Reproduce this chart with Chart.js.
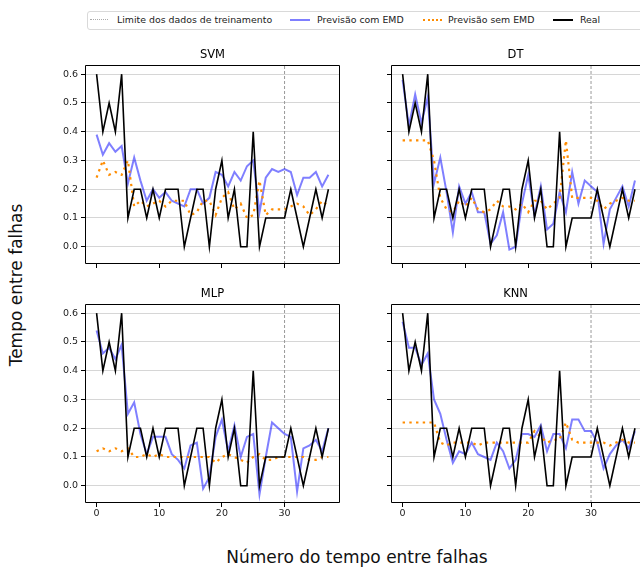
<!DOCTYPE html>
<html>
<head>
<meta charset="utf-8">
<script src="https://cdn.jsdelivr.net/npm/chart.js@4.4.1/dist/chart.umd.min.js"></script>
<style>
  body { margin: 0; background: #fff; font-family: "DejaVu Sans", sans-serif; }
  #page { position: relative; width: 640px; height: 568px; overflow: hidden; }
  .plot { position: absolute; }
  .legend { position: absolute; left: 87px; top: 11px; width: 570px; height: 17px; border: 1px solid #d9d9d9; border-radius: 3px; background: #fff; }
  .lg { position: absolute; font-size: 9.4px; color: #222; top: 14px; line-height: 11px; white-space: nowrap; }
  .sw { position: absolute; top: 19px; height: 0; }
  .axlabel { position: absolute; font-size: 17px; color: #111; white-space: nowrap; }
</style>
</head>
<body>
<div id="page">
  <div class="legend"></div>
  <div class="sw" style="left:90px;width:18px;border-top:1px dotted #aaa;"></div>
  <div class="lg" style="left:117px;">Limite dos dados de treinamento</div>
  <div class="sw" style="left:290px;width:20px;border-top:2px solid rgba(0,0,255,0.5);"></div>
  <div class="lg" style="left:317px;">Previsão com EMD</div>
  <div class="sw" style="left:423px;width:19px;border-top:2px dotted #ff8c00;"></div>
  <div class="lg" style="left:448px;">Previsão sem EMD</div>
  <div class="sw" style="left:553px;width:20px;border-top:2px solid #000;"></div>
  <div class="lg" style="left:580px;">Real</div>

  <div class="plot" style="left:35px;top:47px;width:306px;height:239px;"><canvas id="svm"></canvas></div>
  <div class="plot" style="left:380px;top:47px;width:260px;height:239px;"><canvas id="dt"></canvas></div>
  <div class="plot" style="left:35px;top:286px;width:306px;height:239px;"><canvas id="mlp"></canvas></div>
  <div class="plot" style="left:380px;top:286px;width:260px;height:239px;"><canvas id="knn"></canvas></div>

  <div class="axlabel" style="left:16px;top:285px;transform:translate(-50%,-50%) rotate(-90deg);">Tempo entre falhas</div>
  <div class="axlabel" style="left:357px;top:557px;transform:translate(-50%,-50%);">Número do tempo entre falhas</div>
</div>

<script>
// valores (índice 0..37)
const real = [0.6,0.4,0.5,0.4,0.6,0.1,0.2,0.2,0.1,0.2,0.1,0.2,0.2,0.2,0.0,0.1,0.2,0.2,0.0,0.2,
  0.3,0.1,0.2,0.0,0.0,0.4,0.0,0.1,0.1,0.1,0.1,0.2,0.1,0.0,0.1,0.2,0.1,0.2];

const svmCom = [0.39,0.32,0.36,0.33,0.35,0.22,0.31,0.23,0.16,0.20,0.17,0.19,0.16,0.15,0.14,0.20,0.20,0.15,0.17,0.26,
  0.25,0.21,0.26,0.23,0.28,0.30,0.12,0.24,0.27,0.26,0.27,0.26,0.18,0.24,0.24,0.26,0.21,0.25];
const svmSem = [0.24,0.30,0.25,0.26,0.25,0.30,0.14,0.16,0.14,0.15,0.16,0.14,0.16,0.16,0.16,0.11,0.12,0.16,0.16,0.11,
  0.17,0.19,0.13,0.15,0.10,0.11,0.23,0.11,0.13,0.13,0.13,0.14,0.15,0.14,0.11,0.13,0.16,0.14];

const dtCom = [0.58,0.42,0.53,0.43,0.52,0.22,0.31,0.19,0.05,0.21,0.15,0.19,0.12,0.12,0.01,0.04,0.12,-0.01,0.00,0.15,
  0.25,0.11,0.21,0.06,0.08,0.19,0.12,0.26,0.15,0.23,0.21,0.19,0.01,0.13,0.17,0.21,0.14,0.23];
const dtSem = [0.37,0.37,0.37,0.37,0.37,0.30,0.17,0.13,0.12,0.16,0.14,0.17,0.13,0.12,0.13,0.16,0.14,0.14,0.13,0.15,
  0.12,0.16,0.16,0.13,0.15,0.17,0.37,0.17,0.17,0.17,0.17,0.16,0.13,0.15,0.16,0.17,0.16,0.16];

const mlpCom = [0.54,0.46,0.48,0.44,0.49,0.25,0.29,0.18,0.11,0.17,0.17,0.17,0.11,0.09,0.06,0.14,0.15,-0.01,0.03,0.17,
  0.23,0.12,0.21,0.10,0.17,0.18,-0.03,0.10,0.22,0.20,0.18,0.17,-0.02,0.13,0.14,0.16,0.12,0.20];
const mlpSem = [0.12,0.13,0.12,0.13,0.12,0.13,0.10,0.10,0.11,0.10,0.11,0.10,0.10,0.10,0.10,0.10,0.10,0.10,0.10,0.08,
  0.10,0.11,0.10,0.09,0.08,0.10,0.11,0.09,0.09,0.10,0.10,0.10,0.10,0.10,0.09,0.09,0.10,0.10];

const knnCom = [0.57,0.48,0.48,0.42,0.46,0.30,0.25,0.16,0.08,0.12,0.11,0.15,0.11,0.10,0.09,0.15,0.12,0.06,0.09,0.18,
  0.18,0.17,0.21,0.12,0.18,0.18,0.13,0.23,0.23,0.19,0.19,0.15,0.06,0.11,0.14,0.16,0.13,0.19];
const knnSem = [0.22,0.22,0.22,0.22,0.22,0.22,0.15,0.14,0.15,0.15,0.15,0.15,0.14,0.15,0.15,0.15,0.15,0.15,0.15,0.15,
  0.15,0.19,0.17,0.15,0.16,0.16,0.22,0.16,0.15,0.15,0.15,0.15,0.15,0.14,0.15,0.16,0.15,0.15];

const limiteTreino = 30;
const xTicks = [0, 10, 20, 30];
const yTicks = [0.0, 0.1, 0.2, 0.3, 0.4, 0.5, 0.6];
const yMin = -0.06, yMax = 0.632;

Chart.defaults.font.family = 'DejaVu Sans';
Chart.defaults.color = '#222';

const pts = arr => arr.map((v, i) => ({ x: i, y: v }));

// moldura tipo matplotlib
const frame = {
  id: 'frame',
  afterDraw(chart, args, opts) {
    const { ctx, chartArea: a } = chart;
    ctx.save();
    ctx.strokeStyle = '#000';
    ctx.lineWidth = 1;
    ctx.beginPath();
    const l = Math.round(a.left) + 0.5, t = Math.round(a.top) + 0.5;
    const r = Math.round(a.right) - 0.5, b = Math.round(a.bottom) - 0.5;
    if (opts.right) {
      ctx.rect(l, t, r - l, b - t);
    } else {
      ctx.moveTo(a.right + 2, t); ctx.lineTo(l, t); ctx.lineTo(l, b); ctx.lineTo(a.right + 2, b);
    }
    ctx.stroke();
    ctx.restore();
  }
};

function makePlot(id, titulo, com, sem, leftCol, bottomRow) {
  new Chart(document.getElementById(id), {
    type: 'line',
    data: {
      datasets: [
        { label: 'Real', data: pts(real), borderColor: '#000', borderWidth: 1.6 },
        { label: 'Previsão sem EMD', data: pts(sem), borderColor: '#ff8c00', borderWidth: 2.2, borderDash: [2.4, 4.3] },
        { label: 'Previsão com EMD', data: pts(com), borderColor: 'rgba(0,0,255,0.5)', borderWidth: 2 },
        { label: 'Limite dos dados de treinamento', data: [{ x: limiteTreino, y: yMin }, { x: limiteTreino, y: yMax }],
          borderColor: '#999', borderWidth: 1, borderDash: [3, 2] }
      ]
    },
    options: {
      responsive: true,
      maintainAspectRatio: false,
      animation: false,
      elements: { point: { radius: 0 }, line: { tension: 0, fill: false } },
      layout: { padding: { right: leftCol ? 1 : 0 } },
      plugins: {
        legend: { display: false },
        tooltip: { enabled: false },
        title: { display: true, text: titulo, fullSize: false, color: '#000',
          font: { size: 11.5, weight: 'normal', lineHeight: '12px' }, padding: { top: 2, bottom: 4 } },
        frame: { right: leftCol }
      },
      scales: {
        x: {
          type: 'linear', min: -1.85, max: leftCol ? 38.85 : 37.8,
          afterBuildTicks: s => { s.ticks = xTicks.map(v => ({ value: v })); },
          afterFit: s => { s.height = 22; },
          ticks: { display: bottomRow, font: { size: 9.5 }, padding: 1, maxRotation: 0 },
          grid: { drawOnChartArea: false, tickLength: 4, tickColor: '#000' },
          border: { display: false }
        },
        y: {
          min: yMin, max: yMax,
          afterBuildTicks: s => { s.ticks = yTicks.map(v => ({ value: v })); },
          afterFit: s => { s.width = leftCol ? 50 : 11; },
          ticks: { display: leftCol, font: { size: 9.5 }, padding: 3, callback: v => v.toFixed(1) },
          grid: { color: '#d6d6d6', tickLength: 4, tickColor: '#000' },
          border: { display: false }
        }
      }
    },
    plugins: [frame]
  });
}

makePlot('svm', 'SVM', svmCom, svmSem, true, false);
makePlot('dt', 'DT', dtCom, dtSem, false, false);
makePlot('mlp', 'MLP', mlpCom, mlpSem, true, true);
makePlot('knn', 'KNN', knnCom, knnSem, false, true);
</script>
</body>
</html>
